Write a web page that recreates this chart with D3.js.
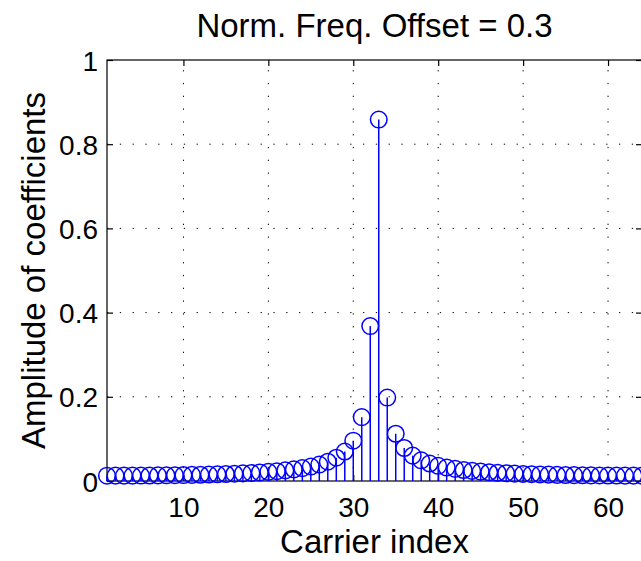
<!DOCTYPE html>
<html><head><meta charset="utf-8">
<script src="https://cdn.jsdelivr.net/npm/d3@7"></script>
<style>body{margin:0;background:#fff}svg{display:block}text{font-family:"Liberation Sans",Arial,Helvetica,sans-serif;fill:#000}</style>
</head><body>
<script>
const carrierIndex = d3.range(1, 65);
const amplitudes = [
0.0126,0.0127,0.0127,0.0128,0.0129,0.0131,0.0133,0.0135,0.0138,0.0141,
0.0145,0.0149,0.0153,0.0159,0.0166,0.0173,0.0182,0.0191,0.0203,0.0217,
0.0233,0.0252,0.0276,0.0305,0.0343,0.0391,0.0458,0.0553,0.0700,0.0957,
0.1517,0.3680,0.8585,0.1982,0.1122,0.0784,0.0603,0.0492,0.0415,0.0361,
0.0319,0.0287,0.0261,0.0240,0.0223,0.0208,0.0196,0.0185,0.0176,0.0168,
0.0162,0.0156,0.0151,0.0146,0.0142,0.0139,0.0136,0.0134,0.0132,0.0130,
0.0129,0.0128,0.0127,0.0127];
const xTicks = [10,20,30,40,50,60];
const yTicks = [0,0.2,0.4,0.6,0.8,1];
const titleText = "Norm. Freq. Offset = 0.3";
const xLabel = "Carrier index";
const yLabel = "Amplitude of coefficients";

const W = 641, H = 561;
const L = 107, R = 642, T = 60, B = 481;
const svg = d3.select("body").append("svg").attr("width", W).attr("height", H);
const x = d3.scaleLinear().domain([1, 64]).range([L, R]);
const y = d3.scaleLinear().domain([0, 1]).range([B, T]);

// grid
const g = svg.append("g").attr("stroke", "#000").attr("stroke-width", 1).attr("stroke-dasharray", "1.3,11.5");
g.selectAll(".vg").data(xTicks).join("line")
  .attr("x1", d => x(d)).attr("x2", d => x(d)).attr("y1", B).attr("y2", T);
g.selectAll(".hg").data(yTicks.filter(d => d > 0 && d < 1)).join("line")
  .attr("x1", L).attr("x2", R).attr("y1", d => y(d)).attr("y2", d => y(d));

// axes box
svg.append("rect").attr("x", L).attr("y", T).attr("width", R - L).attr("height", B - T)
  .attr("fill", "none").attr("stroke", "#000").attr("stroke-width", 1.2);

// ticks via d3 axes
const tl = 6;
const axB = svg.append("g").attr("transform", `translate(0,${B})`)
  .call(d3.axisBottom(x).tickValues(xTicks).tickSize(-tl).tickPadding(16).tickFormat(d3.format("d")));
const axT = svg.append("g").attr("transform", `translate(0,${T})`)
  .call(d3.axisTop(x).tickValues(xTicks).tickSize(-tl).tickFormat(""));
const axL = svg.append("g").attr("transform", `translate(${L},0)`)
  .call(d3.axisLeft(y).tickValues(yTicks).tickSize(-tl).tickPadding(9).tickFormat(d => d3.format("")(+d.toFixed(1))));
const axR = svg.append("g").attr("transform", `translate(${R},0)`)
  .call(d3.axisRight(y).tickValues(yTicks).tickSize(-tl).tickFormat(""));
[axB, axT, axL, axR].forEach(a => {
  a.select(".domain").remove();
  a.selectAll(".tick line").attr("stroke", "#000").attr("stroke-width", 1.2);
  a.selectAll("text").attr("font-size", 28).attr("font-family", '"Liberation Sans",Arial,sans-serif').attr("fill", "#000");
});
axL.selectAll("text").attr("dy", "0.36em");

// stems
const data = carrierIndex.map((k, i) => ({k, v: amplitudes[i]}));
svg.append("g").selectAll("line").data(data).join("line")
  .attr("x1", d => x(d.k)).attr("x2", d => x(d.k))
  .attr("y1", y(0)).attr("y2", d => y(d.v))
  .attr("stroke", "#0000ff").attr("stroke-width", 1.5);
svg.append("g").selectAll("circle").data(data).join("circle")
  .attr("cx", d => x(d.k)).attr("cy", d => y(d.v)).attr("r", 8.3)
  .attr("fill", "none").attr("stroke", "#0000ff").attr("stroke-width", 1.5);

// texts
svg.append("text").attr("x", (L + R) / 2).attr("y", 37).attr("text-anchor", "middle")
  .attr("font-size", 33).text(titleText);
svg.append("text").attr("x", (L + R) / 2).attr("y", 553).attr("text-anchor", "middle")
  .attr("font-size", 33).text(xLabel);
svg.append("text").attr("transform", `translate(45,${(T + B) / 2}) rotate(-90)`)
  .attr("text-anchor", "middle").attr("font-size", 33).text(yLabel);
</script>
</body></html>
